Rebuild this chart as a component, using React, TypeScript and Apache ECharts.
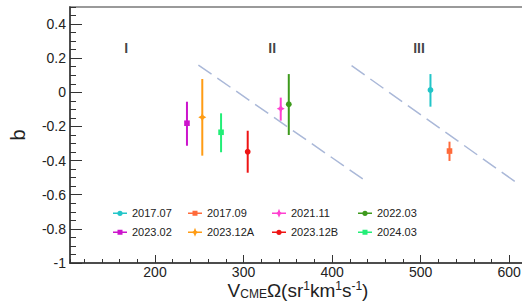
import React, { useEffect, useRef } from 'react';
import * as echarts from 'echarts';

const seriesNames = ['2017.07', '2017.09', '2021.11', '2022.03', '2023.02', '2023.12A', '2023.12B', '2024.03'];
const seriesColors = ['#22c5c8', '#ff6a3a', '#ff40d0', '#3d9a1c', '#cc14cc', '#ff9c14', '#ee1414', '#22ee77'];
const seriesMarkers = ['circle', 'square', 'star', 'circle', 'square', 'star', 'circle', 'square'];
const xValues = [511.1, 532.6, 342.0, 351.1, 236.1, 253.4, 304.7, 274.6];
const bValues = [0.014, -0.344, -0.096, -0.07, -0.181, -0.146, -0.348, -0.234];
const bLow = [-0.084, -0.402, -0.166, -0.25, -0.313, -0.371, -0.471, -0.351];
const bHigh = [0.107, -0.289, -0.031, 0.107, -0.055, 0.078, -0.225, -0.123];

const boundary1X = [249, 440];
const boundary1Y = [0.16, -0.527];
const boundary2X = [422, 611];
const boundary2Y = [0.156, -0.539];

const regionLabels = ['I', 'II', 'III'];
const regionLabelX = [167.4, 332.3, 498.2];
const regionLabelY = [0.26, 0.26, 0.26];

const X_MIN = 104;
const X_MAX = 619;
const Y_MIN = -1;
const Y_MAX = 0.5;

const legendLineStart = [114, 189, 273, 359];
const legendRowCenter = [213.3, 232.3];

const FONT = '"Liberation Sans", Arial, Helvetica, sans-serif';

const legendIcons: Record<string, string> = {
  circle: 'path://M0,3.8 H14 V5.2 H0 Z M4.4,4.5 A2.6,2.6 0 1,1 9.6,4.5 A2.6,2.6 0 1,1 4.4,4.5 Z',
  square: 'path://M0,3.8 H14 V5.2 H0 Z M4.5,2 H9.5 V7 H4.5 Z',
  star: 'path://M0,3.8 H14 V5.2 H0 Z M7,0 L8.3,3.2 L11.5,4.5 L8.3,5.8 L7,9 L5.7,5.8 L2.5,4.5 L5.7,3.2 Z',
};

function markerShape(kind: string, cx: number, cy: number, color: string) {
  if (kind === 'circle') {
    return { type: 'circle', shape: { cx, cy, r: 2.9 }, style: { fill: color } };
  }
  if (kind === 'square') {
    return { type: 'rect', shape: { x: cx - 2.8, y: cy - 2.8, width: 5.6, height: 5.6 }, style: { fill: color } };
  }
  const R = 4;
  const r = 1.4;
  return {
    type: 'polygon',
    shape: {
      points: [
        [cx, cy - R], [cx + r, cy - r], [cx + R, cy], [cx + r, cy + r],
        [cx, cy + R], [cx - r, cy + r], [cx - R, cy], [cx - r, cy - r],
      ],
    },
    style: { fill: color },
  };
}

export default function App() {
  const ref = useRef<HTMLDivElement>(null);

  useEffect(() => {
    document.body.style.margin = '0';
    if (!ref.current) return;
    const chart = echarts.init(ref.current, undefined, { renderer: 'svg' });

    const errorSeries = seriesNames.map((name, i) => ({
      type: 'custom',
      name,
      xAxisIndex: 0,
      yAxisIndex: 0,
      clip: true,
      data: [[xValues[i], bValues[i], bLow[i], bHigh[i]]],
      encode: { x: 0, y: [1, 2, 3] },
      itemStyle: { color: seriesColors[i] },
      renderItem: (params: any, api: any) => {
        const x = api.value(0);
        const p = api.coord([x, api.value(1)]);
        const lo = api.coord([x, api.value(2)]);
        const hi = api.coord([x, api.value(3)]);
        const color = seriesColors[i];
        return {
          type: 'group',
          children: [
            {
              type: 'line',
              shape: { x1: hi[0], y1: hi[1], x2: lo[0], y2: lo[1] },
              style: { stroke: color, lineWidth: 2 },
            },
            markerShape(seriesMarkers[i], p[0], p[1], color),
          ],
        };
      },
    }));

    const boundarySeries = [
      [boundary1X, boundary1Y],
      [boundary2X, boundary2Y],
    ].map(([xs, ys]) => ({
      type: 'line',
      xAxisIndex: 0,
      yAxisIndex: 0,
      silent: true,
      symbol: 'none',
      data: xs.map((x, k) => [x, ys[k]]),
      lineStyle: { color: '#aab8d8', width: 1.5, type: [16, 7] },
    }));

    const labelSeries = {
      type: 'scatter',
      xAxisIndex: 0,
      yAxisIndex: 0,
      silent: true,
      symbolSize: 1,
      itemStyle: { color: 'rgba(0,0,0,0)' },
      data: regionLabels.map((name, k) => ({ name, value: [regionLabelX[k], regionLabelY[k]] })),
      label: {
        show: true,
        position: 'inside',
        formatter: '{b}',
        fontSize: 14,
        fontWeight: 'bold',
        color: '#111',
        fontFamily: FONT,
      },
    };

    const legends = seriesNames.map((name, i) => ({
      show: true,
      orient: 'horizontal',
      left: legendLineStart[i % 4] - 1,
      top: legendRowCenter[Math.floor(i / 4)] - 6.5,
      padding: 0,
      itemWidth: 14,
      itemHeight: 9,
      itemGap: 0,
      selectedMode: false,
      data: [{ name, icon: legendIcons[seriesMarkers[i]] }],
      itemStyle: { borderWidth: 0 },
      textStyle: { fontSize: 11, color: '#222', fontFamily: FONT, lineHeight: 13 },
    }));

    const axisLineStyle = { color: '#333', width: 1.5 };

    chart.setOption({
      animation: false,
      textStyle: { fontFamily: FONT },
      grid: {
        left: 70,
        top: 7,
        right: -4,
        bottom: 42,
        containLabel: false,
        outerBoundsMode: 'none',
        show: true,
        borderColor: '#9a9a9a',
        borderWidth: 2,
        backgroundColor: 'transparent',
      },
      legend: legends,
      xAxis: [
        {
          type: 'value',
          position: 'bottom',
          min: X_MIN,
          max: X_MAX,
          splitNumber: 5,
          axisLine: { show: true, onZero: false, lineStyle: axisLineStyle },
          axisTick: { show: true, inside: true, length: 8, lineStyle: { color: '#333', width: 1 } },
          axisLabel: { fontSize: 14, color: '#222', margin: 2, showMinLabel: false, showMaxLabel: false, fontFamily: FONT },
          splitLine: { show: false },
          name: '{m|V}{sub|CME}{m|Ω(sr}{sup|1}{m|km}{sup|1}{m|s}{sup|-1}{m|)}',
          nameLocation: 'middle',
          nameGap: 17,
          nameMoveOverlap: false,
          nameTextStyle: {
            color: '#222',
            fontFamily: FONT,
            rich: {
              m: { fontSize: 19, lineHeight: 20, color: '#222', fontFamily: FONT },
              sub: { fontSize: 12, lineHeight: 9, verticalAlign: 'bottom', color: '#222', fontFamily: FONT },
              sup: { fontSize: 12, lineHeight: 11, verticalAlign: 'top', color: '#222', fontFamily: FONT },
            },
          },
        },
        {
          type: 'value',
          position: 'bottom',
          min: X_MIN,
          max: X_MAX,
          splitNumber: 26,
          axisLine: { show: false, onZero: false },
          axisTick: { show: true, inside: true, length: 4, lineStyle: { color: '#333', width: 1 } },
          axisLabel: { show: false },
          splitLine: { show: false },
        },
      ],
      yAxis: [
        {
          type: 'value',
          position: 'left',
          min: Y_MIN,
          max: Y_MAX,
          interval: 0.2,
          axisLine: { show: true, onZero: false, lineStyle: axisLineStyle },
          axisTick: { show: true, inside: true, length: 12, lineStyle: { color: '#333', width: 1 } },
          axisLabel: { fontSize: 14, color: '#222', margin: 4, showMaxLabel: false, fontFamily: FONT },
          splitLine: { show: false },
          name: 'b',
          nameLocation: 'middle',
          nameGap: 42,
          nameMoveOverlap: false,
          nameTextStyle: { fontSize: 20, color: '#222', fontFamily: FONT },
        },
        {
          type: 'value',
          position: 'left',
          min: Y_MIN,
          max: Y_MAX,
          interval: 0.05,
          axisLine: { show: false, onZero: false },
          axisTick: { show: true, inside: true, length: 6, lineStyle: { color: '#333', width: 1 } },
          axisLabel: { show: false },
          splitLine: { show: false },
        },
      ],
      series: [...boundarySeries, ...errorSeries, labelSeries],
    });

    return () => {
      chart.dispose();
    };
  }, []);

  return <div ref={ref} style={{ width: 522, height: 305 }} />;
}
